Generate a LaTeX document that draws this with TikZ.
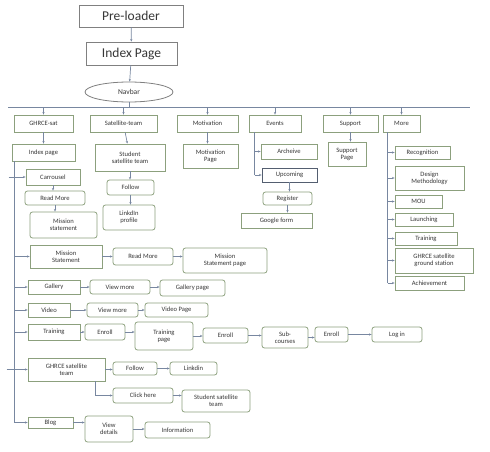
\documentclass[tikz,border=0pt]{standalone}
\usepackage{fontspec}
\setmainfont{Carlito}
\usetikzlibrary{shapes.geometric,arrows.meta,calc}
\definecolor{boxc}{RGB}{140,160,125}
\definecolor{linec}{RGB}{120,135,160}
\definecolor{txtc}{RGB}{55,55,55}
\newcommand{\bx}[7][box]{\node[#1,minimum width={#5-#3},minimum height={#6-#4}] (#2) at ({(#3+#5)/2},{-(#4+#6)/2}) {#7};}
\begin{document}
\begin{tikzpicture}[x=1pt,y=1pt,
  box/.style={draw=boxc,line width=0.8pt,fill=white,text=txtc,align=center,inner sep=0.5pt,font=\fontsize{6.6}{7}\selectfont},
  rbox/.style={box,rounded corners=2.5pt},
  bigbox/.style={box,draw=black!50,font=\fontsize{13.5}{15}\selectfont},
  arr/.style={draw=linec,line width=0.7pt,-{Stealth[length=2.6pt,width=2.2pt]}},
  ln/.style={draw=linec,line width=0.7pt}]
\useasboundingbox (0,0) rectangle (490,-452);
% top
\bx[bigbox]{pre}{79}{5}{183}{27}{Pre-loader}
\bx[bigbox]{idx}{86}{42}{177}{65}{Index Page}
\node[ellipse,draw=black!50,line width=0.8pt,text=txtc,minimum width=88,minimum height=20,inner sep=0pt,font=\fontsize{7.5}{8}\selectfont] (nav) at (129,-92) {Navbar};
\coordinate (busL) at (8,-107);
\coordinate (busR) at (470,-107);
\draw[arr] (pre) -- (idx);
\draw[arr] (idx) -- (nav);
\draw[ln] (nav.south) -- (nav.south |- busL);
\draw[ln] (busL) -- (busR);
% first row
\bx{ghs}{14}{115}{73}{132}{GHRCE-sat}
\bx{sat}{90}{115}{157}{132}{Satellite-team}
\bx{mot}{177}{115}{238}{132}{Motivation}
\bx{evt}{249}{115}{301}{132}{Events}
\bx{sup}{323}{115}{378}{132}{Support}
\bx{mor}{383}{115}{420}{132}{More}
\foreach \n in {ghs,sat,mot,evt,sup,mor}{\draw[arr] (\n.north |- busL) -- (\n.north);}
% second level
\bx{idxp}{12}{144}{75}{161}{Index page}
\bx{sst}{95}{144}{165}{171}{Student\\satellite team}
\bx[rbox]{fol}{107}{180}{154}{195}{Follow}
\bx[rbox]{lnk}{103}{205}{155}{230}{LinkdIn\\profile}
\bx{motp}{183}{144}{238}{168}{Motivation\\Page}
\bx{arc}{261}{144}{317}{159}{Archeive}
\bx[box,draw=linec!70!black]{upc}{262}{168}{317}{182}{Upcoming}
\bx[rbox]{reg}{263}{192}{312}{205}{Register}
\bx{ggl}{241}{213}{312}{228}{Google form}
\bx{supp}{328}{142}{366}{166}{Support\\Page}
\draw[arr] (ghs) -- (idxp);
\draw[arr] (sat) -- (sst);
\draw[arr] (sst.south) -- (sst.south |- fol.north);
\draw[arr] (fol.south) -- (fol.south |- lnk.north);
\draw[arr] (mot.south) -- (mot.south |- motp.north);
\draw[arr] (sup.south) -- (sup.south |- supp.north);
\coordinate (ev0) at ([xshift=6pt]evt.south west);
\draw[ln] (ev0) -- (ev0 |- upc.west);
\draw[arr] (ev0 |- arc.west) -- (arc.west);
\draw[arr] (ev0 |- upc.west) -- (upc.west);
\draw[arr] (upc.south) -- (upc.south |- reg.north);
\draw[arr] (reg.south) -- (reg.south |- ggl.north);
% More column
\bx{rec}{395}{146}{450}{159}{Recognition}
\bx{dsm}{395}{166}{464}{190}{Design\\Methodology}
\bx{mou}{395}{195}{442}{208}{MOU}
\bx{lau}{395}{213}{453}{226}{Launching}
\bx{trn}{395}{232}{457}{245}{Training}
\bx{gsg}{395}{248}{473}{273}{GHRCE satellite\\ground station}
\bx{ach}{395}{276}{464}{290}{Achievement}
\coordinate (mo0) at ([xshift=5pt]mor.south west);
\draw[ln] (mo0) -- (mo0 |- ach.west);
\foreach \n in {rec,dsm,mou,lau,trn,gsg,ach}{\draw[arr] (mo0 |- \n.west) -- (\n.west);}
% GHRCE-sat subtree
\bx{car}{26}{169}{80}{185}{Carrousel}
\bx[rbox]{rm1}{25}{191}{85}{205}{Read More}
\bx[rbox]{mst}{30}{212}{97}{238}{Mission\\statement}
\draw[arr] (car.south) -- (car.south |- rm1.north);
\draw[arr] (rm1.south) -- (rm1.south |- mst.north);
\bx{msn}{30}{245}{102}{268}{Mission\\Statement}
\bx[rbox]{rm2}{113}{248}{173}{265}{Read More}
\bx[rbox]{msp}{183}{248}{267}{273}{Mission\\Statement page}
\bx{gal}{28}{280}{80}{294}{Gallery}
\bx[rbox]{vm1}{90}{280}{150}{294}{View more}
\bx[rbox]{galp}{160}{280}{225}{296}{Gallery page}
\bx{vid}{28}{303}{70}{317}{Video}
\bx[rbox]{vm2}{87}{303}{138}{317}{View more}
\bx[rbox]{vidp}{145}{303}{208}{317}{Video Page}
\bx{tra}{28}{324}{80}{340}{Training}
\bx[rbox]{en1}{85}{324}{125}{340}{Enroll}
\bx[rbox]{trp}{135}{322}{193}{350}{Training\\page}
\bx[rbox]{en2}{203}{328}{248}{343}{Enroll}
\bx[rbox]{sub}{262}{327}{308}{348}{Sub-\\courses}
\bx[rbox]{en3}{315}{327}{348}{342}{Enroll}
\bx[rbox]{log}{372}{327}{422}{342}{Log in}
\bx{gst}{28}{358}{105}{381}{GHRCE satellite\\team}
\bx[rbox]{fo2}{113}{362}{157}{375}{Follow}
\bx[rbox]{lkd}{170}{362}{217}{375}{Linkdin}
\bx[rbox]{clk}{113}{388}{173}{403}{Click here}
\bx[rbox]{sst2}{182}{390}{250}{412}{Student satellite\\team}
\bx{blg}{28}{417}{73}{428}{Blog}
\bx[rbox]{vdt}{85}{416}{133}{442}{View\\details}
\bx[rbox]{inf}{145}{422}{210}{438}{Information}
% trunk
\coordinate (tk) at ([xshift=3pt]idxp.south west);
\draw[ln] (tk) -- (tk |- blg.west);
\draw[arr] ([xshift=-6pt]tk |- car.west) -- (car.west);
\foreach \n in {msn,gal,vid,tra}{\draw[arr] (tk |- \n.west) -- (\n.west);}
\draw[arr] ([xshift=-8pt]tk |- gst.west) -- (gst.west);
\draw[arr] (tk |- blg.west) -- (blg.west);
% horizontal chains
\foreach \a/\b in {msn/rm2,rm2/msp,gal/vm1,vm1/galp,vid/vm2,vm2/vidp,tra/en1,en1/trp,trp/en2,en2/sub,sub/en3,en3/log,gst/fo2,fo2/lkd,clk/sst2,blg/vdt,vdt/inf}
  {\draw[arr] (\a.east) -- (\a.east -| \b.west);}
\draw[arr] ([xshift=-10pt]gst.south east) |- (clk.west);
\end{tikzpicture}
\end{document}
